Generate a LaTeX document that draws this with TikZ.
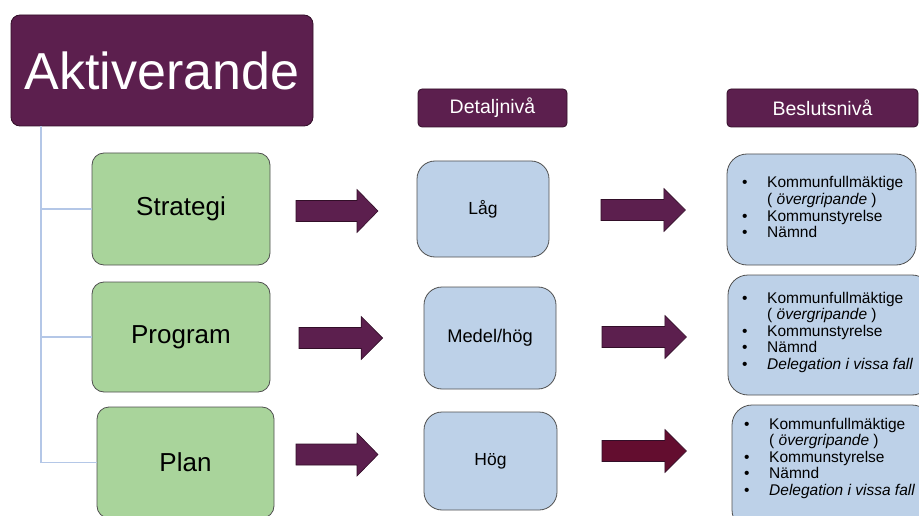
\documentclass[tikz,border=0pt]{standalone}
\usepackage{fontspec}
\setmainfont{Liberation Sans}
\definecolor{plum}{RGB}{92,31,78}
\definecolor{plumedge}{RGB}{50,14,40}
\definecolor{leaf}{RGB}{169,212,155}
\definecolor{sky}{RGB}{189,209,232}
\definecolor{boxedge}{RGB}{80,80,80}
\definecolor{treeblue}{RGB}{180,199,231}
\definecolor{wine}{RGB}{99,13,47}
\newcommand{\itm}[1]{\makebox[25pt][l]{•}#1\\}
\newcommand{\cnt}[1]{\makebox[25pt][l]{}#1\\}
\begin{document}
\begin{tikzpicture}[x=1pt,y=-1pt,
  titlebox/.style={draw=plumedge,fill=plum,text=white,rounded corners=9pt,line width=0.8pt,inner sep=0pt},
  headbox/.style={draw=plumedge,fill=plum,text=white,rounded corners=4pt,line width=0.8pt,inner sep=0pt,font=\fontsize{19.5}{23}\selectfont},
  greenbox/.style={draw=boxedge,fill=leaf,rounded corners=12pt,line width=0.8pt,inner sep=0pt,font=\fontsize{26}{31}\selectfont},
  midbox/.style={draw=boxedge,fill=sky,rounded corners=18pt,line width=0.8pt,inner sep=0pt,font=\fontsize{17.5}{21}\selectfont},
  rightbox/.style={draw=boxedge,fill=sky,rounded corners=20pt,line width=0.8pt,inner sep=0pt},
  listtext/.style={anchor=base west,inner sep=0pt,font=\fontsize{15.5}{16.6}\selectfont},
  treeline/.style={draw=treeblue,line width=1.2pt},
  blockarrow/.pic={\path[pic actions] (0,-10.5) -- (61,-10.5) -- (61,-21.5) -- (82,0) -- (61,21.5) -- (61,10.5) -- (0,10.5) -- cycle;}
]
\useasboundingbox (0,0) rectangle (919,516);
\clip (0,0) rectangle (919,516);

% title
\node[titlebox,minimum width=302pt,minimum height=111pt] (top) at (162,70.5) {\fontsize{52}{60}\selectfont Aktiverande};

% left column
\node[greenbox,minimum width=178pt,minimum height=112pt] (strat) at (181,209) {Strategi};
\node[greenbox,minimum width=178pt,minimum height=110pt] (prog) at (181,337) {Program};
\node[greenbox,minimum width=177pt,minimum height=111pt] (plan) at (185.5,462.5) {Plan};

% tree
\coordinate (trunk) at (41,126);
\draw[treeline] (trunk) |- (plan.west);
\draw[treeline] (trunk |- strat.west) -- (strat.west);
\draw[treeline] (trunk |- prog.west) -- (prog.west);

% headers
\node[headbox,minimum width=149pt,minimum height=38pt] (hdet) at (492.5,108) {Detaljnivå};
\node[headbox,minimum width=191pt,minimum height=38pt] (hbes) at (822.5,108) {Beslutsnivå};

% middle column
\node[midbox,minimum width=132pt,minimum height=96pt] (lag) at (483,209) {Låg};
\node[midbox,minimum width=132pt,minimum height=102pt,font=\fontsize{18.3}{21}\selectfont] (medel) at (490,338) {Medel/hög};
\node[midbox,minimum width=133pt,minimum height=98pt] (hog) at (490.5,461) {Hög};

% arrows
\pic[fill=plum,draw=plumedge,line width=0.6pt] at (296,211) {blockarrow};
\pic[fill=plum,draw=plumedge,line width=0.6pt,xscale=1.02] at (299,338) {blockarrow};
\pic[fill=plum,draw=plumedge,line width=0.6pt] at (296,454.5) {blockarrow};
\pic[fill=plum,draw=plumedge,line width=0.6pt,xscale=1.03] at (601,210) {blockarrow};
\pic[fill=plum,draw=plumedge,line width=0.6pt,xscale=1.03] at (602,337) {blockarrow};
\pic[fill=wine,draw=plumedge,line width=0.6pt,xscale=1.03] at (602,451) {blockarrow};

% right column
\node[rightbox,minimum width=189pt,minimum height=111pt] (r1) at (821.5,209.5) {};
\node[rightbox,minimum width=204pt,minimum height=120pt] (r2) at (830,335) {};
\node[rightbox,minimum width=200pt,minimum height=125pt] (r3) at (832,467.5) {};

\node[listtext] (r1t) at (742,188) {\begin{tabular}[t]{@{}l@{}}
\itm{Kommunfullmäktige}
\cnt{( \textit{övergripande} )}
\itm{Kommunstyrelse}
\itm{Nämnd}
\end{tabular}};
\node[listtext] (r2t) at (742,303) {\begin{tabular}[t]{@{}l@{}}
\itm{Kommunfullmäktige}
\cnt{( \textit{övergripande} )}
\itm{Kommunstyrelse}
\itm{Nämnd}
\itm{\textit{Delegation i vissa fall}}
\end{tabular}};
\node[listtext] (r3t) at (744,429) {\begin{tabular}[t]{@{}l@{}}
\itm{Kommunfullmäktige}
\cnt{( \textit{övergripande} )}
\itm{Kommunstyrelse}
\itm{Nämnd}
\itm{\textit{Delegation i vissa fall}}
\end{tabular}};
\end{tikzpicture}
\end{document}
